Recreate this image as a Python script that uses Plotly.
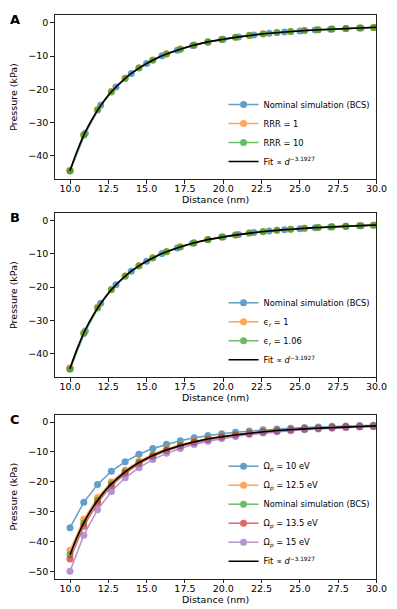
import plotly.graph_objects as go

# ── data ────────────────────────────────────────────────────────────────────
d_nom = [10, 11, 12, 13, 14, 15, 16, 17, 18, 19, 20, 21, 22, 23, 24, 25, 26, 27, 28, 29, 30]
d_var = [10.0, 10.9, 11.8, 12.7, 13.6, 14.5, 15.4, 16.3, 17.2, 18.1, 19.0, 19.9,
         20.8, 21.7, 22.6, 23.5, 24.4, 25.3, 26.2, 27.1, 28.0, 28.9, 29.8]
d_fit = [10, 10.5, 11, 11.5, 12, 12.5, 13, 13.5, 14, 14.5, 15, 15.5, 16, 17, 18, 19,
         20, 21, 22, 23, 24, 25, 26, 27, 28, 29, 30]

p_fit = [-44.5, -38.1, -32.8, -28.5, -24.9, -21.8, -19.3, -17.1, -15.2, -13.6, -12.2,
         -11.0, -9.9, -8.2, -6.8, -5.7, -4.9, -4.2, -3.6, -3.1, -2.7, -2.4, -2.1,
         -1.9, -1.7, -1.5, -1.3]

# panel A
p_nom = [-44.5, -33.2, -24.8, -19.3, -15.2, -12.2, -9.9, -8.2, -6.8, -5.7, -4.9,
         -4.2, -3.6, -3.1, -2.7, -2.4, -2.1, -1.9, -1.7, -1.5, -1.3]
p_rrr1 = [-44.4, -33.6, -26.1, -20.6, -16.6, -13.5, -11.15, -9.3, -7.85, -6.65, -5.7,
          -4.9, -4.27, -3.73, -3.28, -2.9, -2.57, -2.29, -2.05, -1.84, -1.65, -1.49, -1.35]
p_rrr10 = [-44.6, -33.8, -26.2, -20.8, -16.7, -13.6, -11.2, -9.35, -7.9, -6.7, -5.75,
           -4.95, -4.3, -3.75, -3.3, -2.9, -2.6, -2.3, -2.05, -1.85, -1.65, -1.5, -1.35]

# panel B
p_eps1 = [-44.2, -33.7, -26.0, -20.6, -16.6, -13.5, -11.1, -9.3, -7.85, -6.65, -5.7,
          -4.92, -4.28, -3.74, -3.28, -2.9, -2.57, -2.29, -2.05, -1.84, -1.65, -1.49, -1.35]
p_eps106 = [-44.7, -33.9, -26.3, -20.8, -16.7, -13.6, -11.2, -9.35, -7.9, -6.7, -5.75,
            -4.95, -4.3, -3.75, -3.3, -2.9, -2.6, -2.3, -2.05, -1.85, -1.65, -1.5, -1.35]

# panel C
p_om10 = [-35.4, -26.9, -20.9, -16.5, -13.3, -10.8, -8.9, -7.45, -6.25, -5.3, -4.55,
          -3.95, -3.4, -3.0, -2.6, -2.3, -2.05, -1.85, -1.65, -1.45, -1.3, -1.2, -1.1]
p_om125 = [-43.0, -32.6, -25.3, -20.0, -16.1, -13.1, -10.8, -9.0, -7.6, -6.45, -5.5,
           -4.77, -4.14, -3.62, -3.18, -2.81, -2.49, -2.22, -1.99, -1.79, -1.6, -1.45, -1.31]
p_nomC = [-44.5, -33.8, -26.2, -20.8, -16.7, -13.6, -11.2, -9.35, -7.9, -6.7, -5.75,
          -4.95, -4.3, -3.75, -3.3, -2.9, -2.6, -2.3, -2.05, -1.85, -1.65, -1.5, -1.35]
p_om135 = [-45.9, -34.9, -27.1, -21.4, -17.2, -14.0, -11.6, -9.65, -8.13, -6.9, -5.91,
           -5.1, -4.43, -3.87, -3.4, -3.0, -2.66, -2.37, -2.13, -1.91, -1.71, -1.55, -1.4]
p_om15 = [-50.0, -37.9, -29.4, -23.3, -18.7, -15.3, -12.6, -10.5, -8.85, -7.5, -6.43,
          -5.55, -4.82, -4.21, -3.69, -3.27, -2.9, -2.58, -2.31, -2.08, -1.86, -1.68, -1.53]

x_ticks = [10, 12.5, 15, 17.5, 20, 22.5, 25, 27.5, 30]

# ── style ───────────────────────────────────────────────────────────────────
W, H = 397, 609
_FONT = 'DejaVu Sans'
_FS = 9.5
_BLUE, _ORANGE, _GREEN, _RED, _PURPLE = '#1f77b4', '#ff7f0e', '#2ca02c', '#d62728', '#9467bd'
FIT_LABEL = 'Fit ∝ <i>d</i><sup>−3.1927</sup>'

# axes boxes in pixels (top, bottom, y range); x extent shared
X0, X1 = 48, 379
panels = [(7, 171, [-47.0, 2.4]), (205, 369.3, [-47.1, 2.3]), (406.7, 570.7, [-52.5, 2.45])]

fig = go.Figure()


def series(x, y, name, color, axis, legend):
    fig.add_trace(go.Scatter(
        x=x, y=y, mode='lines+markers', name=name,
        line=dict(color=color, width=1.5),
        marker=dict(color=color, size=7),
        opacity=0.7, xaxis='x' + axis, yaxis='y' + axis, legend=legend,
    ))


def fit(axis, legend):
    fig.add_trace(go.Scatter(
        x=d_fit, y=p_fit, mode='lines', name=FIT_LABEL,
        line=dict(color='black', width=1.6, shape='spline'),
        xaxis='x' + axis, yaxis='y' + axis, legend=legend,
    ))


# A
series(d_nom, p_nom, 'Nominal simulation (BCS)', _BLUE, '', 'legend')
series(d_var, p_rrr1, 'RRR = 1', _ORANGE, '', 'legend')
series(d_var, p_rrr10, 'RRR = 10', _GREEN, '', 'legend')
fit('', 'legend')
# B
series(d_nom, p_nom, 'Nominal simulation (BCS)', _BLUE, '2', 'legend2')
series(d_var, p_eps1, 'ϵ<sub><i>r</i></sub> = 1', _ORANGE, '2', 'legend2')
series(d_var, p_eps106, 'ϵ<sub><i>r</i></sub> = 1.06', _GREEN, '2', 'legend2')
fit('2', 'legend2')
# C
series(d_var, p_om10, 'Ω<sub><i>p</i></sub> = 10 eV', _BLUE, '3', 'legend3')
series(d_var, p_om125, 'Ω<sub><i>p</i></sub> = 12.5 eV', _ORANGE, '3', 'legend3')
series(d_var, p_nomC, 'Nominal simulation (BCS)', _GREEN, '3', 'legend3')
series(d_var, p_om135, 'Ω<sub><i>p</i></sub> = 13.5 eV', _RED, '3', 'legend3')
series(d_var, p_om15, 'Ω<sub><i>p</i></sub> = 15 eV', _PURPLE, '3', 'legend3')
fit('3', 'legend3')

layout = dict(
    width=W, height=H,
    margin=dict(l=0, r=0, t=0, b=0),
    paper_bgcolor='white', plot_bgcolor='white',
    font=dict(family=_FONT, size=_FS, color='black'),
    showlegend=True,
    annotations=[],
)

axis_common = dict(
    showgrid=False, zeroline=False,
    showline=True, mirror=True, linecolor='#222', linewidth=1,
    ticks='outside', ticklen=3.5, tickwidth=0.8, tickcolor='#222',
    tickfont=dict(size=_FS),
)

for i, (top, bot, yr) in enumerate(panels):
    sfx = '' if i == 0 else str(i + 1)
    leg = 'legend' + sfx
    layout['xaxis' + sfx] = dict(
        axis_common, domain=[X0 / W, X1 / W], range=[9.0, 30.0],
        tickvals=x_ticks, tickformat='.1f', anchor='y' + sfx,
        ticklabelstandoff=-3,
        title=dict(text='Distance (nm)', font=dict(size=_FS), standoff=2),
    )
    layout['yaxis' + sfx] = dict(
        axis_common, domain=[1 - bot / H, 1 - top / H], range=yr,
        dtick=10, anchor='x' + sfx,
        title=dict(text='Pressure (kPa)', font=dict(size=_FS), standoff=9),
    )
    layout[leg] = dict(
        x=(X1 - 2) / W, y=1 - (bot - 3) / H, xanchor='right', yanchor='bottom',
        bgcolor='rgba(255,255,255,0)', font=dict(size=8.3),
        itemwidth=30, tracegroupgap=0,
    )
    layout['annotations'].append(dict(
        text='<b>' + 'ABC'[i] + '</b>', xref='paper', yref='paper',
        x=0.0, y=1 - (top - 5) / H, xanchor='left', yanchor='top',
        showarrow=False, font=dict(size=13, family=_FONT),
    ))

fig.update_layout(**layout)

fig.write_html('out.html')
